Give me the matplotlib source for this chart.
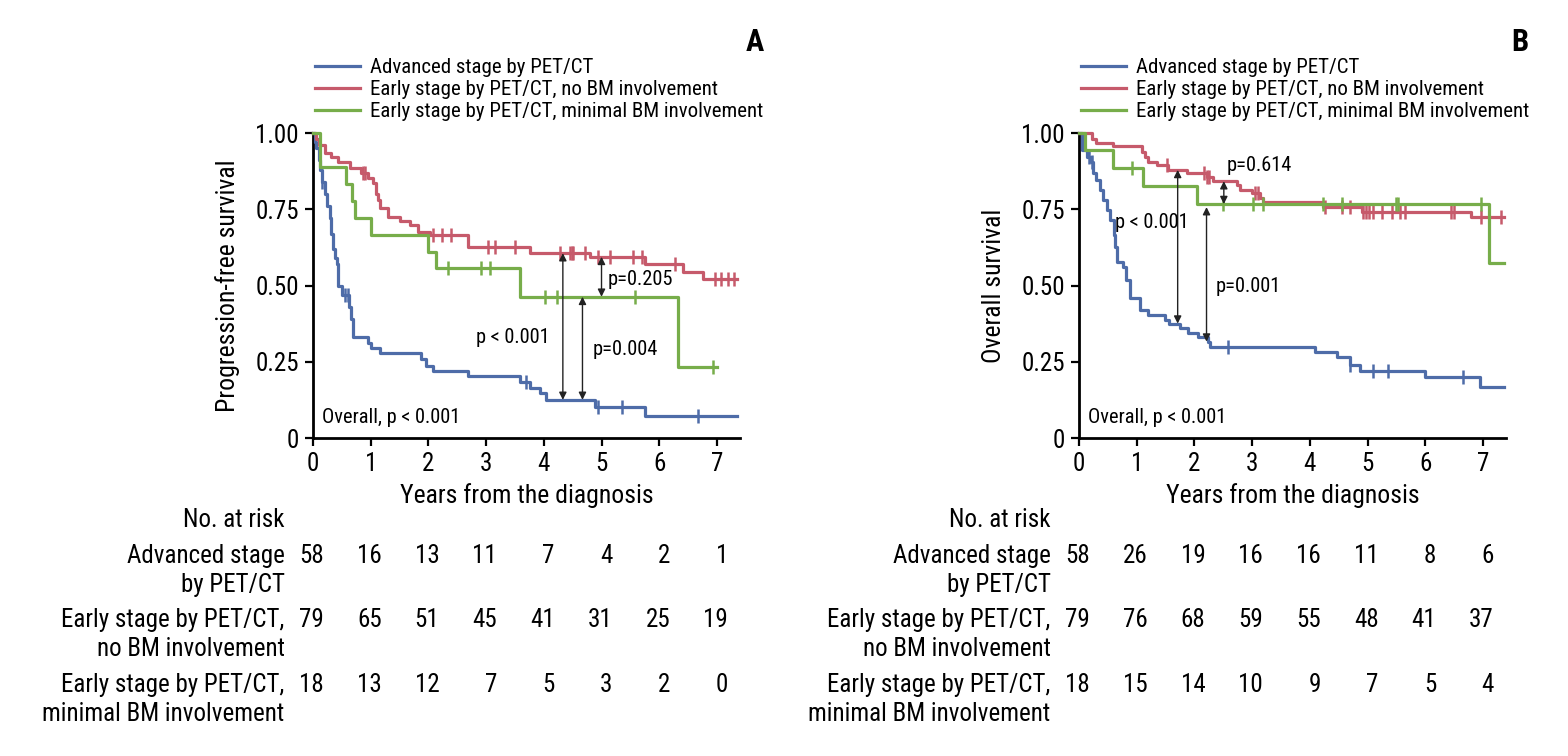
import numpy as np
import matplotlib
matplotlib.use('Agg')
import matplotlib.pyplot as plt
import matplotlib.transforms as mtransforms
from matplotlib import font_manager
from matplotlib.lines import Line2D


def pick_font(names):
    for n in names:
        try:
            font_manager.findfont(n, fallback_to_default=False)
            return n
        except ValueError:
            pass
    return 'DejaVu Sans'


plt.rcParams['font.family'] = [pick_font(['Liberation Sans Narrow', 'Roboto Condensed', 'Liberation Sans']), 'DejaVu Sans']

BLUE = '#4e6ca8'
RED = '#c65a6b'
GREEN = '#77ad4a'

labels = ['Advanced stage by PET/CT',
          'Early stage by PET/CT, no BM involvement',
          'Early stage by PET/CT, minimal BM involvement']
risk_rows = [('Advanced stage', 'by PET/CT'),
             ('Early stage by PET/CT,', 'no BM involvement'),
             ('Early stage by PET/CT,', 'minimal BM involvement')]
risk_times = [0, 1, 2, 3, 4, 5, 6, 7]

# ---- panel A: progression-free survival ----
adv_pfs_t = [0.03, 0.05, 0.1, 0.12, 0.15, 0.2, 0.25, 0.3, 0.32, 0.35, 0.38, 0.41, 0.44, 0.5, 0.62,
             0.66, 0.7, 0.95, 1.0, 1.16, 1.88, 1.96, 2.08, 2.69, 3.59, 3.76, 3.93, 4.04, 4.89, 5.75]
adv_pfs_s = [0.97, 0.95, 0.91, 0.88, 0.84, 0.80, 0.76, 0.72, 0.67, 0.62, 0.59, 0.57, 0.50, 0.47, 0.43,
             0.39, 0.33, 0.31, 0.295, 0.278, 0.258, 0.236, 0.22, 0.203, 0.185, 0.164, 0.147, 0.125, 0.103, 0.072]
adv_pfs_c = [0.15, 0.55, 0.6, 3.7, 4.94, 5.35, 6.67]

red_pfs_t = [0.05, 0.1, 0.2, 0.32, 0.44, 0.64, 0.84, 0.95, 1.04, 1.1, 1.13, 1.16, 1.3, 1.51, 1.68, 1.82,
             2.03, 2.69, 3.76, 4.8, 5.75, 6.41, 6.76]
red_pfs_s = [0.98, 0.96, 0.935, 0.92, 0.905, 0.885, 0.868, 0.852, 0.835, 0.80, 0.78, 0.753, 0.726, 0.713,
             0.698, 0.676, 0.665, 0.627, 0.607, 0.594, 0.569, 0.545, 0.52]
red_pfs_c = [0.86, 0.9, 2.08, 2.23, 2.4, 3.04, 3.16, 3.5, 4.28, 4.45, 4.49, 4.5, 4.71, 4.94, 5.14, 5.54,
             5.7, 6.27, 6.96, 7.07, 7.19, 7.3]

grn_pfs_t = [0.12, 0.58, 0.67, 0.73, 1.01, 2.0, 2.14, 3.59, 6.32]
grn_pfs_s = [0.889, 0.833, 0.778, 0.722, 0.667, 0.611, 0.556, 0.463, 0.232]
grn_pfs_c = [2.34, 2.92, 3.06, 4.02, 4.22, 5.58, 6.93]

risk_pfs = [[58, 16, 13, 11, 7, 4, 2, 1],
            [79, 65, 51, 45, 41, 31, 25, 19],
            [18, 13, 12, 7, 5, 3, 2, 0]]

# ---- panel B: overall survival ----
adv_os_t = [0.05, 0.13, 0.2, 0.25, 0.3, 0.36, 0.42, 0.48, 0.54, 0.6, 0.62, 0.65, 0.76, 0.82, 0.88, 1.06,
            1.19, 1.49, 1.56, 1.75, 1.89, 2.06, 2.24, 2.27, 4.09, 4.47, 4.7, 4.87, 6.0, 6.95]
adv_os_s = [0.944, 0.922, 0.906, 0.868, 0.845, 0.813, 0.78, 0.748, 0.715, 0.666, 0.627, 0.578, 0.56,
            0.518, 0.459, 0.42, 0.403, 0.387, 0.375, 0.36, 0.344, 0.332, 0.316, 0.30, 0.281, 0.265,
            0.239, 0.221, 0.199, 0.168]
adv_os_c = [0.18, 0.22, 2.58, 4.7, 5.1, 5.36, 6.66]

red_os_t = [0.22, 0.3, 0.59, 1.09, 1.14, 1.2, 1.35, 1.54, 1.87, 2.21, 2.33, 2.73, 2.79, 2.99, 3.14,
            3.19, 4.23, 4.9, 6.8]
red_os_s = [0.979, 0.967, 0.957, 0.939, 0.92, 0.906, 0.895, 0.879, 0.868, 0.857, 0.842, 0.829, 0.813,
            0.802, 0.787, 0.775, 0.756, 0.742, 0.726]
red_os_c = [1.52, 2.16, 2.21, 2.25, 3.05, 3.1, 4.26, 4.55, 4.7, 4.92, 4.97, 5.02, 5.1, 5.25, 5.42,
            5.56, 5.65, 6.45, 6.5, 6.97, 7.32]

grn_os_t = [0.1, 0.59, 1.11, 2.04, 7.1]
grn_os_s = [0.944, 0.885, 0.826, 0.767, 0.575]
grn_os_c = [0.91, 2.5, 3.02, 3.19, 4.23, 4.55, 5.49, 5.53, 6.97]

risk_os = [[58, 26, 19, 16, 16, 11, 8, 6],
           [79, 76, 68, 59, 55, 48, 41, 37],
           [18, 15, 14, 10, 9, 7, 5, 4]]


def km(ax, t, s, cens, end, color):
    tt = np.r_[0, t, end]
    ss = np.r_[1.0, s, s[-1]]
    ax.step(tt, ss, where='post', color=color, lw=2.3, clip_on=False, zorder=3)
    idx = np.searchsorted(tt, cens, side='right') - 1
    ax.plot(cens, ss[idx], ls='none', marker='|', ms=10, mew=1.8, color=color, clip_on=False, zorder=3)


def arrow(ax, x, y0, y1):
    ax.annotate('', xy=(x, y1), xytext=(x, y0),
                arrowprops=dict(arrowstyle='<|-|>', color='#222222', lw=1.0,
                                shrinkA=0, shrinkB=0, mutation_scale=11))


fig = plt.figure(figsize=(15.68, 7.56), dpi=100)
W, H = 1568.0, 756.0
axA = fig.add_axes([313 / W, 1 - 438 / H, 427 / W, 305 / H])
axB = fig.add_axes([1079 / W, 1 - 438 / H, 427 / W, 305 / H])

panels = [
    (axA, 'Progression-free survival', 'A', 755,
     [(adv_pfs_t, adv_pfs_s, adv_pfs_c, 7.34, BLUE),
      (red_pfs_t, red_pfs_s, red_pfs_c, 7.34, RED),
      (grn_pfs_t, grn_pfs_s, grn_pfs_c, 7.0, GREEN)], risk_pfs),
    (axB, 'Overall survival', 'B', 1520,
     [(adv_os_t, adv_os_s, adv_os_c, 7.36, BLUE),
      (red_os_t, red_os_s, red_os_c, 7.36, RED),
      (grn_os_t, grn_os_s, grn_os_c, 7.36, GREEN)], risk_os),
]

for ax, ylab, letter, letter_x, curves, risk in panels:
    for t, s, c, end, col in curves:
        km(ax, t, s, c, end, col)
    ax.set_xlim(0, 7.4)
    ax.set_ylim(0, 1.0)
    ax.set_xticks(range(8))
    ax.set_yticks([0, 0.25, 0.5, 0.75, 1.0])
    ax.set_yticklabels(['0', '0.25', '0.50', '0.75', '1.00'])
    for side in ['top', 'right']:
        ax.spines[side].set_visible(False)
    for side in ['left', 'bottom']:
        ax.spines[side].set_linewidth(2.0)
    ax.tick_params(direction='out', length=6, width=1.6, labelsize=18, pad=4)
    ax.set_ylabel(ylab, fontsize=18.5, va='center')
    ax.yaxis.set_label_coords(-0.2, 0.5)
    ax.set_xlabel('Years from the diagnosis', fontsize=18.5, va='center')
    ax.xaxis.set_label_coords(0.5, -0.19)
    ax.text(0.15, 0.066, 'Overall, p < 0.001', fontsize=14.7, va='center')

    handles = [Line2D([], [], color=col, lw=2.3) for col in (BLUE, RED, GREEN)]
    lx = ax.get_position().x0 + 2 / W
    fig.legend(handles, labels, loc='upper left', bbox_to_anchor=(lx, 1 - 58 / H),
               bbox_transform=fig.transFigure, frameon=False, fontsize=15,
               handlelength=2.15, handletextpad=0.5, labelspacing=0.14,
               borderpad=0, borderaxespad=0)
    fig.text(letter_x / W, 1 - 42 / H, letter, fontsize=22, fontweight='bold',
             ha='center', va='center')

    # number at risk table
    tr = mtransforms.blended_transform_factory(ax.transData, fig.transFigure)
    lab_x = -0.49
    ax.text(lab_x, 1 - 520 / H, 'No. at risk', transform=tr, ha='right', va='center', fontsize=18)
    row_y = [556, 620, 685]
    for (l1, l2), y, nums in zip(risk_rows, row_y, risk):
        ax.text(lab_x, 1 - y / H, l1, transform=tr, ha='right', va='center', fontsize=18)
        ax.text(lab_x, 1 - (y + 29) / H, l2, transform=tr, ha='right', va='center', fontsize=18)
        for xt, n in zip(risk_times, nums):
            ax.text(xt + 0.19, 1 - y / H, str(n), transform=tr, ha='right', va='center', fontsize=18)

# p-value annotations, panel A
arrow(axA, 4.33, 0.606, 0.125)
arrow(axA, 4.67, 0.463, 0.125)
arrow(axA, 5.0, 0.594, 0.463)
axA.text(4.1, 0.33, 'p < 0.001', fontsize=14.7, ha='right', va='center')
axA.text(4.85, 0.29, 'p=0.004', fontsize=14.7, ha='left', va='center')
axA.text(5.1, 0.52, 'p=0.205', fontsize=14.7, ha='left', va='center')

# p-value annotations, panel B
arrow(axB, 1.71, 0.879, 0.375)
arrow(axB, 2.21, 0.757, 0.316)
arrow(axB, 2.51, 0.842, 0.767)
axB.text(0.62, 0.705, 'p < 0.001', fontsize=14.7, ha='left', va='center')
axB.text(2.37, 0.496, 'p=0.001', fontsize=14.7, ha='left', va='center')
axB.text(2.55, 0.895, 'p=0.614', fontsize=14.7, ha='left', va='center')

fig.savefig('out.png', dpi=100)
